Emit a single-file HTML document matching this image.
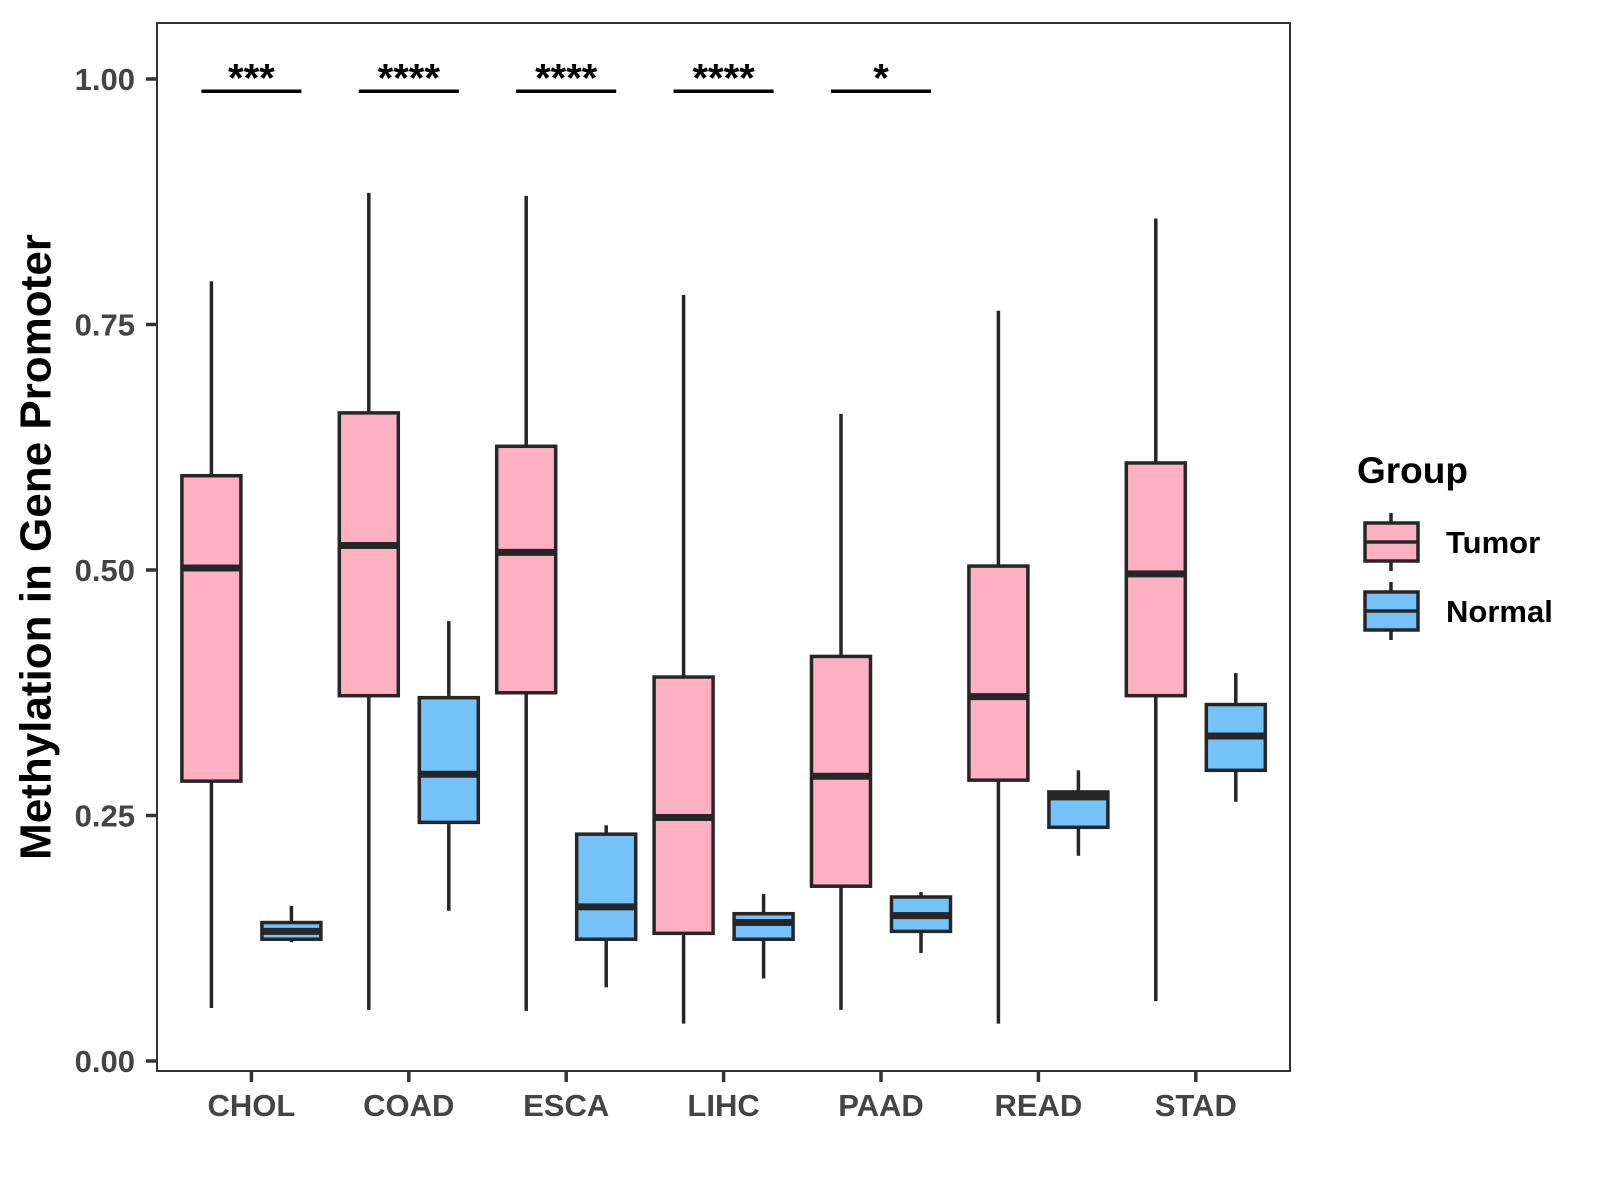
<!DOCTYPE html>
<html><head><meta charset="utf-8"><style>
html,body{margin:0;padding:0;background:#fff;}
svg{display:block;font-family:"Liberation Sans",Arial,sans-serif;font-weight:bold;}
</style></head><body>
<svg id="chart" width="1600" height="1200" viewBox="0 0 1600 1200">
<rect x="157" y="23" width="1133" height="1048" fill="#fff" stroke="#333" stroke-width="2"/>
<g id="yaxis"></g>
<g id="xaxis"></g>
<g id="boxes"></g>
<g id="sig"></g>
<text x="39" y="547" transform="rotate(-90 39 547)" text-anchor="middle" font-size="44" fill="#000" dominant-baseline="middle">Methylation in Gene Promoter</text>
<g>
<text x="1357" y="483" font-size="37" fill="#000">Group</text>
<g>
<line x1="1391" y1="513" x2="1391" y2="571" stroke="#262626" stroke-width="3.5"/>
<rect x="1365" y="523" width="53" height="38" fill="#FCB0C2" stroke="#262626" stroke-width="3.5"/>
<line x1="1365" y1="542" x2="1418" y2="542" stroke="#262626" stroke-width="3.5"/>
<text x="1446" y="553" font-size="31" fill="#000">Tumor</text>
</g>
<g>
<line x1="1391" y1="582" x2="1391" y2="640" stroke="#262626" stroke-width="3.5"/>
<rect x="1365" y="592" width="53" height="38" fill="#74C2F7" stroke="#262626" stroke-width="3.5"/>
<line x1="1365" y1="611" x2="1418" y2="611" stroke="#262626" stroke-width="3.5"/>
<text x="1446" y="622" font-size="31" fill="#000">Normal</text>
</g>
</g>
</svg>
<script>
const categories=["CHOL","COAD","ESCA","LIHC","PAAD","READ","STAD"];
// [low, q1, median, q3, high]
const tumorStats=[
[0.054,0.285,0.502,0.596,0.794],
[0.052,0.372,0.525,0.660,0.884],
[0.051,0.375,0.518,0.626,0.881],
[0.038,0.130,0.248,0.391,0.780],
[0.052,0.178,0.290,0.412,0.659],
[0.038,0.286,0.371,0.504,0.764],
[0.061,0.372,0.496,0.609,0.858]];
const normalStats=[
[0.121,0.124,0.132,0.141,0.158],
[0.153,0.243,0.292,0.370,0.448],
[0.075,0.124,0.157,0.231,0.240],
[0.084,0.124,0.141,0.150,0.170],
[0.110,0.132,0.148,0.167,0.172],
[0.209,0.238,0.269,0.274,0.296],
[0.264,0.296,0.331,0.363,0.395]];
const sigLabels=["***","****","****","****","*"];
const sigLevel=0.9875;
const yTicks=[0,0.25,0.5,0.75,1.0];
const yTickLabels=["0.00","0.25","0.50","0.75","1.00"];

const NS="http://www.w3.org/2000/svg";
const y=v=>1061-v*982;
const x=i=>251.4+i*157.4;
function mk(tag,attrs,parent){const e=document.createElementNS(NS,tag);for(const k in attrs)e.setAttribute(k,attrs[k]);parent.appendChild(e);return e;}
const ya=document.getElementById('yaxis'),xa=document.getElementById('xaxis'),bx=document.getElementById('boxes'),sg=document.getElementById('sig');
yTicks.forEach((t,i)=>{
 const l=mk('line',{x1:146,x2:157,y1:y(t),y2:y(t),stroke:'#333','stroke-width':3.5},ya);
 
 
 const tx=mk('text',{x:135,y:y(t)+11,'text-anchor':'end','font-size':31,fill:'#444'},ya);
 tx.textContent=yTickLabels[i];
 
 
});
categories.forEach((c,i)=>{
 const l=mk('line',{x1:x(i),x2:x(i),y1:1071,y2:1082,stroke:'#333','stroke-width':3.5},xa);
 
 
 const tx=mk('text',{x:x(i),y:1116,'text-anchor':'middle','font-size':31,fill:'#444'},xa);
 tx.textContent=c;
 
 
});
function box(cx,s,fill,name){
 const g=mk('g',{},bx);
 
 
 const hw=29.5;
 mk('line',{x1:cx,x2:cx,y1:y(s[4]),y2:y(s[3]),stroke:'#262626','stroke-width':3.5},g);
 mk('line',{x1:cx,x2:cx,y1:y(s[1]),y2:y(s[0]),stroke:'#262626','stroke-width':3.5},g);
 mk('rect',{x:cx-hw,y:y(s[3]),width:2*hw,height:y(s[1])-y(s[3]),fill:fill,stroke:'#262626','stroke-width':3.5},g);
 mk('line',{x1:cx-hw,x2:cx+hw,y1:y(s[2]),y2:y(s[2]),stroke:'#262626','stroke-width':7},g);
}
categories.forEach((c,i)=>{
 box(x(i)-40,tumorStats[i],'#FCB0C2','box-tumor-'+c.toLowerCase());
 box(x(i)+40,normalStats[i],'#74C2F7','box-normal-'+c.toLowerCase());
});
sigLabels.forEach((s,i)=>{
 const l=mk('line',{x1:x(i)-50,x2:x(i)+50,y1:y(sigLevel),y2:y(sigLevel),stroke:'#000','stroke-width':3.5},sg);
 
 
 const t=mk('text',{x:x(i),y:y(sigLevel),'text-anchor':'middle','font-size':40,fill:'#000'},sg);
 t.textContent=s;
 
 
});
</script>
</body></html>
